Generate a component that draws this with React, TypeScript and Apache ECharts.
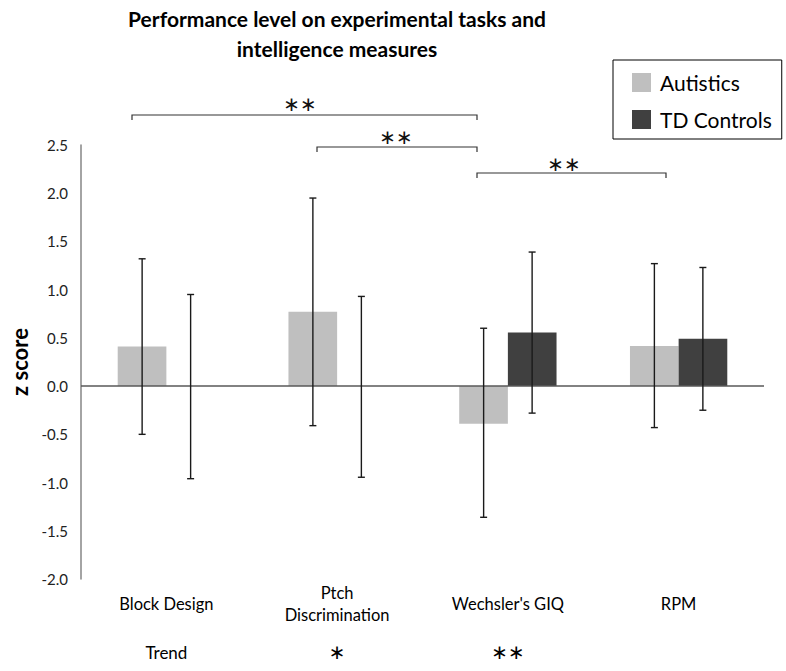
import React, { useEffect, useRef } from "react";
import * as echarts from "echarts";

const categories = ["Block Design", "Ptch\nDiscrimination", "Wechsler's GIQ", "RPM"];
const autistics = [0.41, 0.77, -0.39, 0.415];
const tdControls = [0, 0, 0.555, 0.49];
const autErrLow = [-0.5, -0.41, -1.36, -0.43];
const autErrHigh = [1.32, 1.95, 0.6, 1.27];
const tdErrLow = [-0.96, -0.945, -0.28, -0.25];
const tdErrHigh = [0.95, 0.93, 1.39, 1.23];
const groupSignificance = ["Trend", "\u2217", "\u2217\u2217", ""];
const seriesNames = ["Autistics", "TD Controls"];

const FONT = "Lato, 'Open Sans', sans-serif";
const STAR_FONT = "'DejaVu Sans', sans-serif";

function errorSeries(name: string, low: number[], high: number[], sign: number) {
  return {
    type: "custom",
    name: name + " error",
    z: 5,
    silent: true,
    encode: { x: 0, y: [1, 2] },
    data: low.map((l, i) => [i, l, high[i]]),
    renderItem: (params: any, api: any) => {
      const idx = api.value(0);
      const lo = api.value(1);
      const hi = api.value(2);
      const band = api.size([1, 0])[0];
      const off = sign * band * 0.142;
      const top = api.coord([idx, hi]);
      const bot = api.coord([idx, lo]);
      const cx = top[0] + off;
      const cap = 3.5;
      const style = { stroke: "#1a1a1a", lineWidth: 1.4 };
      return {
        type: "group",
        children: [
          { type: "line", shape: { x1: cx, y1: top[1], x2: cx, y2: bot[1] }, style },
          { type: "line", shape: { x1: cx - cap, y1: top[1], x2: cx + cap, y2: top[1] }, style },
          { type: "line", shape: { x1: cx - cap, y1: bot[1], x2: cx + cap, y2: bot[1] }, style },
        ],
      };
    },
  };
}

function bracket(x1: number, x2: number, y: number) {
  return {
    type: "polyline",
    shape: { points: [[x1, y + 5], [x1, y], [x2, y], [x2, y + 5]] },
    style: { stroke: "#333", lineWidth: 1.2, fill: null },
  };
}

function stars(x: number, y: number) {
  return {
    type: "text",
    x,
    y,
    style: {
      text: "\u2217\u2217",
      font: `20px ${STAR_FONT}`,
      fill: "#111",
      align: "center",
      verticalAlign: "middle",
    },
  };
}

export default function App() {
  const ref = useRef<HTMLDivElement>(null);
  useEffect(() => {
    document.body.style.margin = "0";
    const chart = echarts.init(ref.current!, undefined, { renderer: "svg" });
    chart.setOption({
      animation: false,
      backgroundColor: "#fff",
      grid: { left: 81, right: 22, top: 145, bottom: 92 },
      legend: {
        orient: "vertical",
        left: 613,
        top: 60,
        padding: [12, 10, 9, 19],
        itemGap: 16,
        itemWidth: 19,
        itemHeight: 19,
        borderColor: "#000",
        borderWidth: 1,
        icon: "rect",
        data: seriesNames,
        textStyle: { fontFamily: FONT, fontSize: 21, color: "#000", padding: [0, 0, 0, 4] },
      },
      xAxis: [
        {
          type: "category",
          data: categories,
          axisLine: { show: false, onZero: false },
          axisTick: { show: false },
          axisLabel: {
            fontFamily: FONT,
            fontSize: 16.5,
            color: "#000",
            lineHeight: 22,
            verticalAlign: "middle",
            margin: 25,
            interval: 0,
          },
        },
        {
          type: "category",
          data: groupSignificance,
          position: "bottom",
          axisLine: { show: false, onZero: false },
          axisTick: { show: false },
          axisLabel: {
            interval: 0,
            verticalAlign: "middle",
            margin: 73,
            fontFamily: FONT,
            fontSize: 17,
            color: "#000",
            formatter: (v: string) => (v.indexOf("\u2217") >= 0 ? `{s|${v}}` : v),
            rich: { s: { fontFamily: STAR_FONT, fontSize: 20, color: "#000" } },
          },
        },
      ],
      yAxis: {
        type: "value",
        min: -2,
        max: 2.5,
        interval: 0.5,
        name: "z score",
        nameLocation: "middle",
        nameGap: 41,
        nameTextStyle: { fontFamily: FONT, fontSize: 22, fontWeight: "bold", color: "#000" },
        axisLine: { show: true, lineStyle: { color: "#868686", width: 1.5 } },
        axisTick: { show: false },
        splitLine: { show: false },
        axisLabel: {
          fontFamily: FONT,
          fontSize: 15,
          color: "#222",
          margin: 13,
          formatter: (v: number) => v.toFixed(1),
        },
      },
      series: [
        {
          name: seriesNames[0],
          type: "bar",
          data: autistics,
          barGap: 0,
          barCategoryGap: "43%",
          itemStyle: { color: "#bfbfbf" },
          markLine: {
            silent: true,
            symbol: "none",
            label: { show: false },
            lineStyle: { color: "#595959", width: 1.5, type: "solid" },
            data: [{ yAxis: 0 }],
          },
        },
        {
          name: seriesNames[1],
          type: "bar",
          data: tdControls,
          barGap: 0,
          barCategoryGap: "43%",
          itemStyle: { color: "#404040" },
        },
        errorSeries(seriesNames[0], autErrLow, autErrHigh, -1),
        errorSeries(seriesNames[1], tdErrLow, tdErrHigh, 1),
      ],
      graphic: [
        {
          type: "text",
          x: 337,
          y: 3,
          style: {
            text: "Performance level on experimental tasks and\nintelligence measures",
            font: `bold 21px ${FONT}`,
            lineHeight: 30,
            fill: "#000",
            align: "center",
          },
        },
        bracket(132, 477, 115),
        stars(300, 104),
        bracket(317, 477, 147),
        stars(396, 137),
        bracket(477, 666, 173),
        stars(564, 164),
      ],
    });
    return () => chart.dispose();
  }, []);
  return <div ref={ref} style={{ width: 786, height: 671 }} />;
}
